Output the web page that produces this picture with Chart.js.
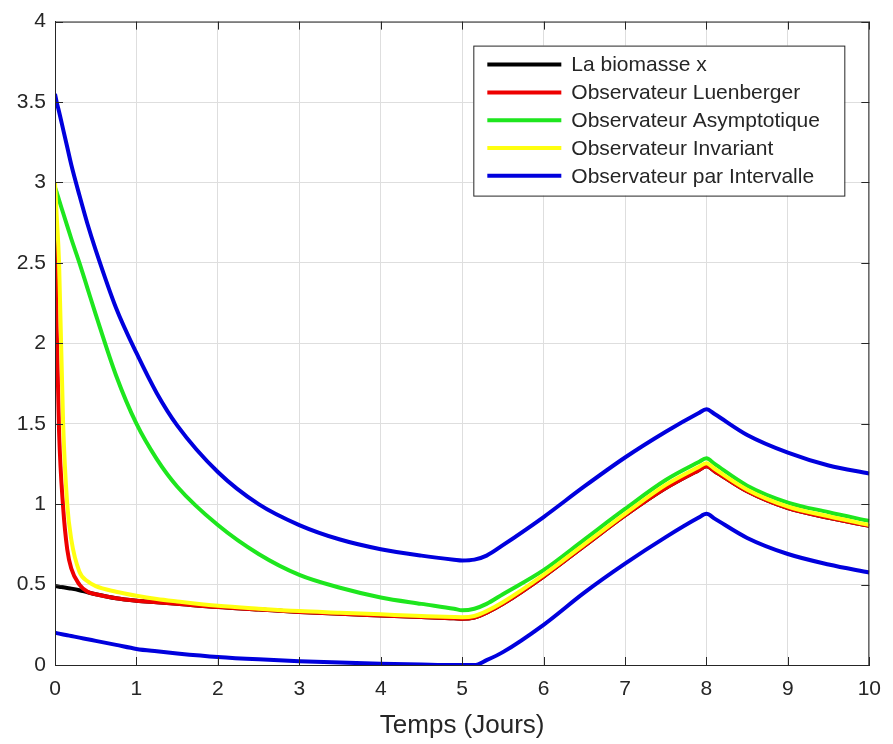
<!DOCTYPE html>
<html lang="fr">
<head>
<meta charset="UTF-8">
<title>Observateurs de la biomasse</title>
<script src="https://cdn.jsdelivr.net/npm/chart.js@4.4.1/dist/chart.umd.min.js"></script>
<style>
  body { margin: 0; background: #fff; }
  canvas { display: block; }
</style>
</head>
<body>
<canvas id="myChart" width="893" height="744"></canvas>
<script>
// temps (jours) - pas plus fin au debut et autour des cassures (t=5, t=8)
var temps = [0, 0.02, 0.05, 0.1, 0.15, 0.2, 0.3, 0.4, 0.5, 0.75, 1, 1.25, 1.5, 2, 2.5, 3, 3.5, 4, 4.5, 4.9, 5, 5.15, 5.3, 5.5, 6, 6.5, 7, 7.5, 7.9, 8, 8.1, 8.5, 9, 9.5, 10];

var biomasse = [0.49, 0.489, 0.487, 0.483, 0.479, 0.475, 0.465, 0.452, 0.44, 0.415, 0.4, 0.39, 0.38, 0.36, 0.345, 0.33, 0.318, 0.308, 0.298, 0.29, 0.287, 0.295, 0.325, 0.38, 0.55, 0.74, 0.93, 1.1, 1.21, 1.235, 1.205, 1.08, 0.975, 0.915, 0.865];
var luenberger = [2.87, 2.1, 1.45, 0.98, 0.72, 0.6, 0.5, 0.455, 0.44, 0.415, 0.4, 0.39, 0.38, 0.36, 0.345, 0.33, 0.318, 0.308, 0.298, 0.29, 0.287, 0.295, 0.325, 0.38, 0.55, 0.74, 0.93, 1.1, 1.21, 1.235, 1.205, 1.08, 0.975, 0.915, 0.865];
var asymptotique = [2.97, 2.94, 2.89, 2.81, 2.73, 2.65, 2.5, 2.34, 2.18, 1.8, 1.5, 1.28, 1.11, 0.87, 0.69, 0.56, 0.48, 0.42, 0.38, 0.35, 0.34, 0.35, 0.38, 0.44, 0.59, 0.78, 0.97, 1.15, 1.26, 1.285, 1.25, 1.115, 1.01, 0.95, 0.895];
var invariant = [3.0, 2.8, 2.5, 1.5, 1.0, 0.78, 0.58, 0.52, 0.49, 0.455, 0.43, 0.41, 0.395, 0.368, 0.35, 0.335, 0.325, 0.315, 0.305, 0.298, 0.297, 0.305, 0.335, 0.39, 0.56, 0.75, 0.94, 1.12, 1.23, 1.255, 1.22, 1.09, 0.985, 0.925, 0.87];
var intervalleHaut = [3.55, 3.5, 3.44, 3.33, 3.22, 3.11, 2.92, 2.74, 2.58, 2.22, 1.94, 1.69, 1.49, 1.2, 1.0, 0.87, 0.78, 0.72, 0.68, 0.655, 0.65, 0.655, 0.68, 0.745, 0.92, 1.11, 1.29, 1.45, 1.565, 1.59, 1.56, 1.43, 1.32, 1.24, 1.19];
var intervalleBas = [0.2, 0.198, 0.195, 0.19, 0.185, 0.18, 0.17, 0.16, 0.15, 0.125, 0.1, 0.085, 0.072, 0.05, 0.035, 0.024, 0.015, 0.008, 0.003, 0, 0, 0, 0.03, 0.08, 0.25, 0.45, 0.63, 0.795, 0.915, 0.94, 0.91, 0.79, 0.69, 0.625, 0.575];

var legendLabels = ['La biomasse x', 'Observateur Luenberger', 'Observateur Asymptotique', 'Observateur Invariant', 'Observateur par Intervalle'];
var xTicks = [0, 10, 1];     // min, max, pas
var yTicks = [0, 4, 0.5];

var textColor = '#262626';
var police = "'Liberation Sans', Arial, sans-serif";

function toPoints(ys) {
    return temps.map(function(t, i) { return { x: t, y: ys[i] }; });
}

function serie(label, ys, color, order, hideInLegend) {
    return {
        label: label,
        data: toPoints(ys),
        borderColor: color,
        backgroundColor: color,
        borderWidth: 4,
        pointRadius: 0,
        cubicInterpolationMode: 'monotone',
        order: order,
        hideInLegend: !!hideInLegend
    };
}

// cadre complet + petites graduations vers l'interieur (style matlab)
var frame = {
    id: 'frame',
    afterDatasetsDraw: function(chart) {
        var ctx = chart.ctx, a = chart.chartArea;
        var xs = chart.scales.x, ys = chart.scales.y;
        ctx.save();
        ctx.strokeStyle = textColor;
        ctx.lineWidth = 1;
        ctx.strokeRect(a.left + 0.5, a.top + 0.5, a.right - a.left - 1, a.bottom - a.top);
        ctx.beginPath();
        xs.ticks.forEach(function(tk) {
            var px = Math.round(xs.getPixelForValue(tk.value)) + 0.5;
            ctx.moveTo(px, a.bottom); ctx.lineTo(px, a.bottom - 8);
            ctx.moveTo(px, a.top); ctx.lineTo(px, a.top + 8);
        });
        ys.ticks.forEach(function(tk) {
            var py = Math.round(ys.getPixelForValue(tk.value)) + 0.5;
            ctx.moveTo(a.left, py); ctx.lineTo(a.left + 8, py);
            ctx.moveTo(a.right, py); ctx.lineTo(a.right - 8, py);
        });
        ctx.stroke();
        ctx.restore();
    }
};

// legende encadree en haut a droite, dans la zone du trace
var boxLegend = {
    id: 'boxLegend',
    afterDraw: function(chart) {
        var ctx = chart.ctx, a = chart.chartArea;
        var items = chart.data.datasets.filter(function(d) { return !d.hideInLegend; });
        var w = 371, rowH = 27.8;
        var h = items.length * rowH + 11;
        var x0 = a.right - 25 - w, y0 = a.top + 24;
        ctx.save();
        ctx.fillStyle = '#fff';
        ctx.fillRect(x0, y0, w, h);
        ctx.strokeStyle = textColor;
        ctx.lineWidth = 1;
        ctx.strokeRect(x0 + 0.5, y0 + 0.5, w, h);
        ctx.font = '21px ' + police;
        ctx.textBaseline = 'middle';
        items.forEach(function(d, i) {
            var y = y0 + 19 + i * rowH;
            ctx.strokeStyle = d.borderColor;
            ctx.lineWidth = 4;
            ctx.beginPath();
            ctx.moveTo(x0 + 14, y);
            ctx.lineTo(x0 + 88, y);
            ctx.stroke();
            ctx.fillStyle = textColor;
            ctx.fillText(d.label, x0 + 98, y + 1);
        });
        ctx.restore();
    }
};

var ctx = document.getElementById('myChart').getContext('2d');
var myChart = new Chart(ctx, {
    type: 'line',
    data: {
        datasets: [
            serie(legendLabels[0], biomasse, '#000000', 6),
            serie(legendLabels[1], luenberger, '#ee0000', 5),
            serie(legendLabels[2], asymptotique, '#1ee61e', 4),
            serie(legendLabels[3], invariant, '#ffff10', 3),
            serie(legendLabels[4], intervalleHaut, '#0000dd', 2),
            serie(legendLabels[4], intervalleBas, '#0000dd', 1, true)
        ]
    },
    options: {
        responsive: false,
        animation: false,
        layout: { padding: { top: 21, right: 20, left: 0, bottom: 0 } },
        plugins: {
            legend: { display: false },
            tooltip: { enabled: false }
        },
        scales: {
            x: {
                type: 'linear',
                min: xTicks[0], max: xTicks[1],
                ticks: { stepSize: xTicks[2], color: textColor, padding: 12, font: { family: police, size: 21 } },
                grid: { color: '#dedede', drawTicks: false },
                border: { color: textColor },
                title: { display: true, text: 'Temps (Jours)', color: textColor, font: { family: police, size: 26 }, padding: { top: 4, bottom: 3 } },
                afterFit: function(scale) { scale.height = 79; }
            },
            y: {
                min: yTicks[0], max: yTicks[1],
                ticks: {
                    stepSize: yTicks[2], color: textColor, padding: 9, font: { family: police, size: 21 },
                    callback: function(v) { return String(v); }
                },
                grid: { color: '#dedede', drawTicks: false },
                border: { color: textColor },
                afterFit: function(scale) { scale.width = 55; }
            }
        }
    },
    plugins: [frame, boxLegend]
});
</script>
</body>
</html>
